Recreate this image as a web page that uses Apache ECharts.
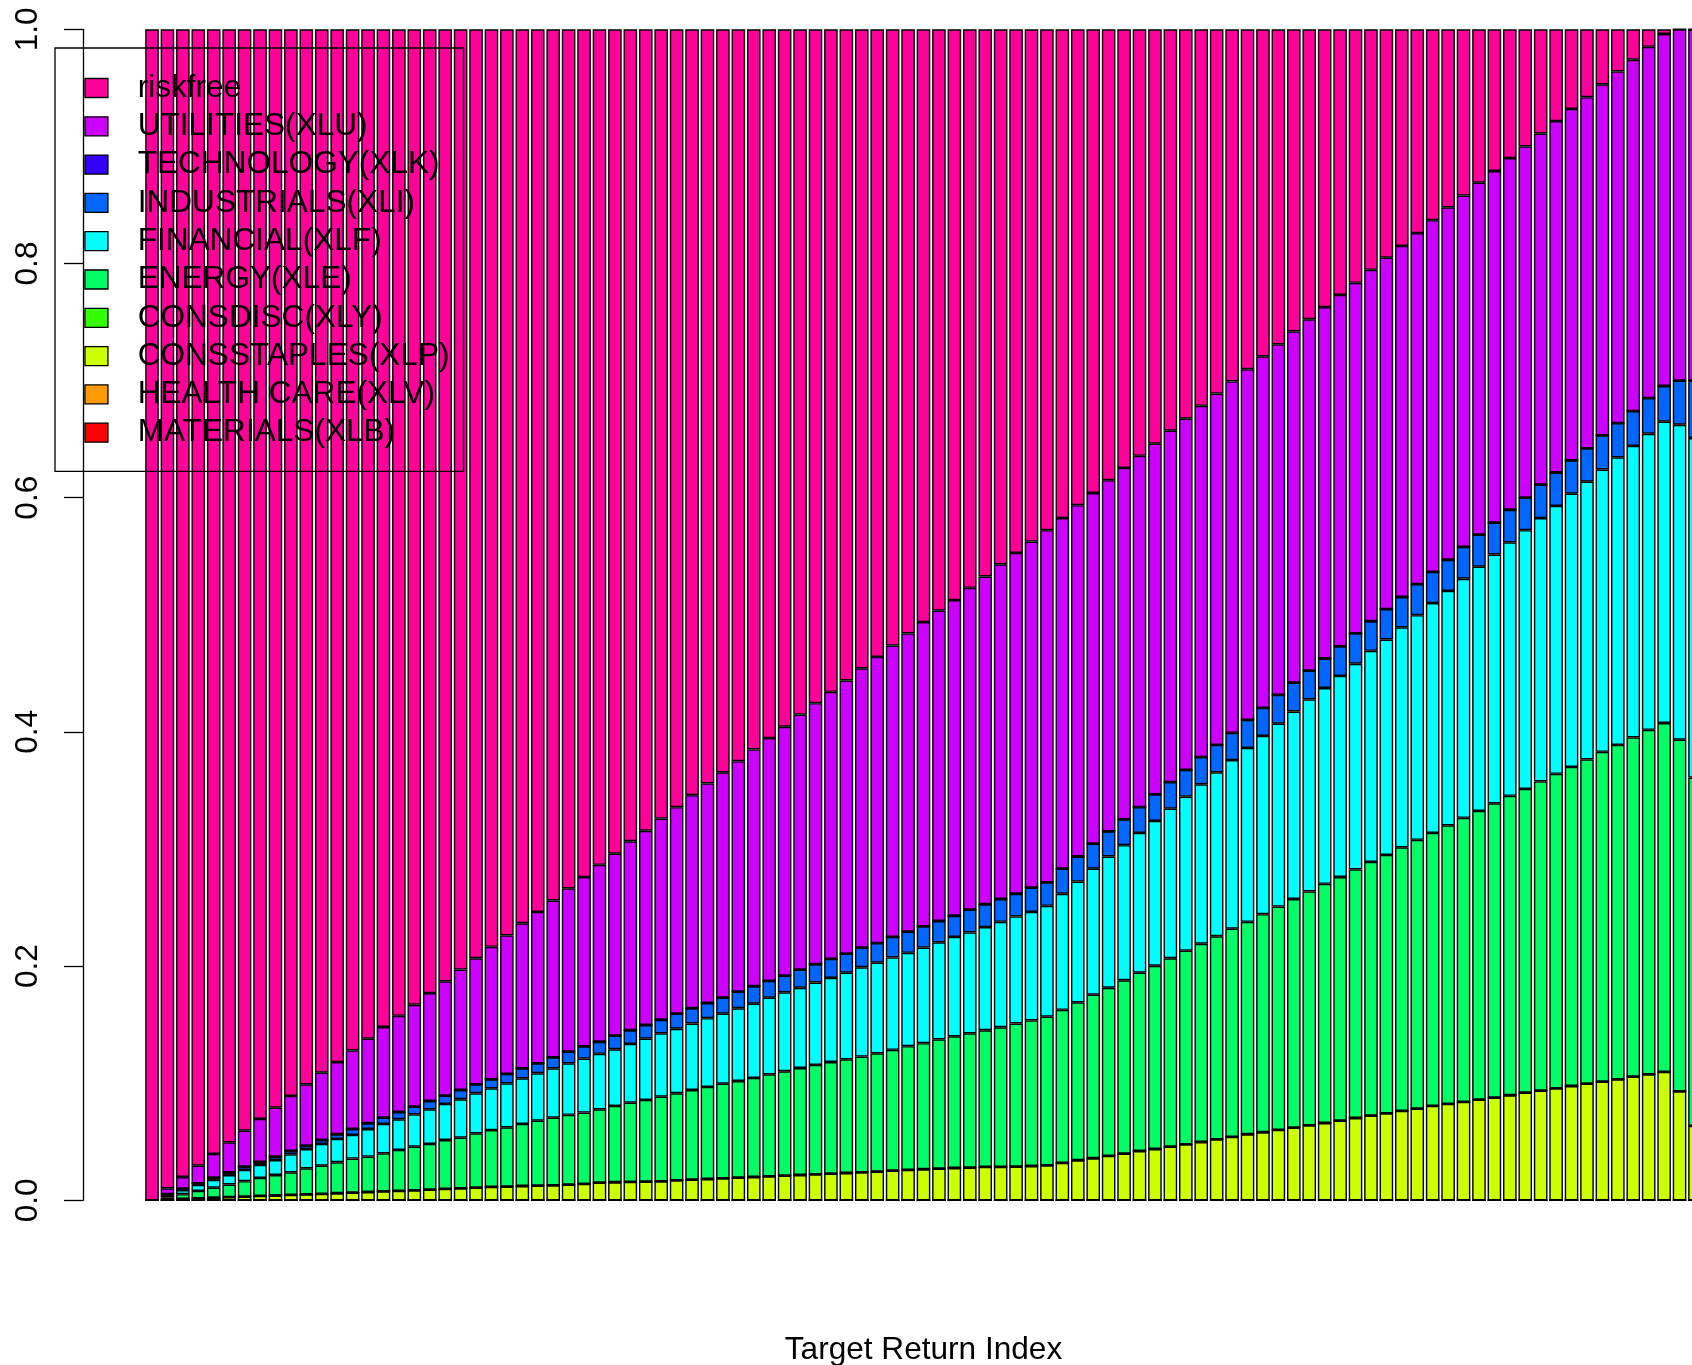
<!DOCTYPE html>
<html>
<head>
<meta charset="utf-8">
<script src="https://cdn.jsdelivr.net/npm/echarts@6/dist/echarts.min.js"></script>
<style>
  html, body { margin: 0; padding: 0; background: #fff; }
  #chart { width: 1692px; height: 1365px; }
</style>
</head>
<body>
<div id="chart"></div>
<script>
// Portfolio weights along the frontier, one bar per target-return step.
const assetNames = ['MATERIALS(XLB)', 'HEALTH CARE(XLV)', 'CONSSTAPLES(XLP)', 'CONSDISC(XLY)',
  'ENERGY(XLE)', 'FINANCIAL(XLF)', 'INDUSTRIALS(XLI)', 'TECHNOLOGY(XLK)', 'UTILITIES(XLU)', 'riskfree'];
// rainbow(10) palette, bottom of the stack first
const assetColors = ['#FF0000', '#FF9900', '#CCFF00', '#33FF00', '#00FF66',
  '#00FFFF', '#0066FF', '#3300FF', '#CC00FF', '#FF0099'];
const yTickLabels = ['0.0', '0.2', '0.4', '0.6', '0.8', '1.0'];

const nBars = 101;
const targetIndex = Array.from({ length: nBars }, (_, i) => String(i + 1));

const materials = new Array(nBars).fill(0);
const healthcare = new Array(nBars).fill(0);
const consdisc = new Array(nBars).fill(0);
const technology = new Array(nBars).fill(0);

const consstaples = [0, .0006, .0012, .0017, .0022, .0027, .0032, .0037, .0041, .0046,
  .0050, .0055, .0060, .0065, .0071, .0077, .0080, .0085, .0091, .0097,
  .0102, .0108, .0114, .0117, .0122, .0125, .0128, .0134, .0140, .0151,
  .0154, .0157, .0159, .0162, .0171, .0176, .0182, .0188, .0194, .0199,
  .0205, .0211, .0216, .0222, .0228, .0233, .0239, .0245, .0253, .0259,
  .0265, .0270, .0276, .0279, .0285, .0286, .0288, .0293, .0299, .0319,
  .0342, .0359, .0379, .0399, .0421, .0438, .0458, .0478, .0498, .0521,
  .0541, .0564, .0581, .0601, .0621, .0640, .0660, .0680, .0703, .0723,
  .0743, .0763, .0783, .0806, .0823, .0840, .0860, .0877, .0897, .0919,
  .0937, .0956, .0976, .0996, .1013, .1033, .1056, .1076, .1096, .0931,
  .0635];

const energy = [0, .0020, .0040, .0063, .0086, .0108, .0131, .0154, .0175, .0193,
  .0223, .0241, .0265, .0291, .0302, .0324, .0350, .0373, .0390, .0418,
  .0433, .0464, .0486, .0506, .0530, .0555, .0578, .0596, .0609, .0626,
  .0652, .0677, .0698, .0723, .0743, .0766, .0786, .0808, .0825, .0846,
  .0871, .0891, .0914, .0934, .0953, .0971, .0988, .1010, .1032, .1057,
  .1077, .1104, .1124, .1147, .1167, .1192, .1222, .1243, .1269, .1308,
  .1349, .1397, .1436, .1480, .1523, .1565, .1609, .1654, .1693, .1734,
  .1779, .1814, .1862, .1907, .1952, .1998, .2043, .2081, .2123, .2167,
  .2206, .2251, .2295, .2331, .2379, .2426, .2465, .2513, .2557, .2594,
  .2640, .2686, .2725, .2769, .2817, .2856, .2897, .2942, .2980, .3003,
  .2975];

const financial = [0, .0020, .0036, .0051, .0066, .0081, .0096, .0111, .0128, .0154,
  .0165, .0185, .0199, .0202, .0236, .0251, .0262, .0276, .0296, .0308,
  .0328, .0342, .0356, .0376, .0390, .0405, .0421, .0440, .0461, .0474,
  .0484, .0501, .0523, .0541, .0551, .0568, .0587, .0598, .0621, .0634,
  .0654, .0674, .0685, .0704, .0718, .0740, .0763, .0774, .0789, .0797,
  .0816, .0829, .0849, .0862, .0881, .0900, .0914, .0927, .0947, .0991,
  .1031, .1076, .1121, .1154, .1193, .1237, .1277, .1316, .1361, .1400,
  .1439, .1485, .1523, .1562, .1601, .1639, .1672, .1717, .1756, .1802,
  .1840, .1879, .1919, .1963, .2002, .2042, .2086, .2125, .2165, .2210,
  .2249, .2288, .2333, .2372, .2411, .2456, .2489, .2528, .2573, .2689,
  .2900];

const industrials = [0, .0006, .0012, .0014, .0020, .0023, .0028, .0025, .0029, .0028,
  .0029, .0034, .0040, .0051, .0049, .0054, .0062, .0066, .0071, .0071,
  .0079, .0076, .0077, .0080, .0085, .0085, .0093, .0100, .0105, .0103,
  .0116, .0117, .0117, .0116, .0129, .0130, .0130, .0136, .0142, .0149,
  .0143, .0142, .0155, .0156, .0162, .0162, .0168, .0168, .0175, .0181,
  .0182, .0182, .0181, .0194, .0195, .0195, .0194, .0207, .0200, .0214,
  .0214, .0214, .0214, .0220, .0220, .0227, .0227, .0227, .0233, .0234,
  .0233, .0239, .0240, .0246, .0246, .0247, .0252, .0253, .0259, .0253,
  .0260, .0259, .0265, .0266, .0266, .0272, .0273, .0272, .0278, .0278,
  .0285, .0285, .0285, .0285, .0292, .0291, .0298, .0304, .0305, .0377,
  .0490];

const utilities = [0, .0050, .0099, .0151, .0202, .0256, .0308, .0368, .0418, .0470,
  .0523, .0575, .0616, .0671, .0722, .0774, .0821, .0870, .0922, .0976,
  .1028, .1077, .1132, .1183, .1239, .1293, .1340, .1394, .1445, .1511,
  .1554, .1614, .1659, .1718, .1763, .1820, .1875, .1925, .1968, .2022,
  .2074, .2126, .2178, .2229, .2281, .2333, .2385, .2443, .2488, .2547,
  .2598, .2651, .2696, .2748, .2799, .2858, .2910, .2955, .3008, .2994,
  .3000, .2994, .3000, .3001, .3001, .2994, .3001, .3000, .3000, .3000,
  .3001, .2995, .3001, .2994, .3000, .3000, .3001, .3001, .2994, .3001,
  .3001, .2998, .2998, .3004, .3010, .3000, .3006, .3003, .3003, .2999,
  .2999, .3001, .3001, .2998, .2997, .3004, .3000, .3000, .3006, .3000,
  .3000];

const riskfree = [1, .9898, .9801, .9704, .9604, .9505, .9405, .9305, .9209, .9109,
  .9010, .8910, .8820, .8720, .8620, .8520, .8425, .8330, .8230, .8130,
  .8030, .7933, .7835, .7738, .7634, .7537, .7440, .7336, .7240, .7135,
  .7040, .6934, .6844, .6740, .6643, .6540, .6440, .6345, .6250, .6150,
  .6053, .5956, .5852, .5755, .5658, .5561, .5457, .5360, .5263, .5159,
  .5062, .4964, .4874, .4770, .4673, .4569, .4472, .4375, .4277, .4174,
  .4064, .3960, .3850, .3746, .3642, .3539, .3428, .3325, .3215, .3111,
  .3007, .2903, .2793, .2690, .2580, .2476, .2372, .2268, .2165, .2054,
  .1950, .1850, .1740, .1630, .1520, .1420, .1310, .1210, .1100, .1000,
  .0890, .0784, .0680, .0580, .0470, .0360, .0260, .0150, .0040, 0,
  0];

const weights = [materials, healthcare, consstaples, consdisc, energy,
  financial, industrials, technology, utilities, riskfree];

const FONT = '"Liberation Sans", Arial, Helvetica, sans-serif';
const FS = 31.6;

const chart = echarts.init(document.getElementById('chart'), null, { renderer: 'canvas' });

chart.setOption({
  animation: false,
  backgroundColor: '#ffffff',
  textStyle: { fontFamily: FONT },
  // plotting band runs a little past the right edge of the page
  grid: {
    left: 144.3, width: 1558.4, top: 29.3, height: 1171,
    containLabel: false, outerBoundsMode: 'none'
  },
  legend: {
    orient: 'vertical',
    left: 55,
    top: 48,
    padding: [24, 14, 22.7, 29.3],
    itemWidth: 23,
    itemHeight: 19,
    itemGap: 6.3,
    icon: 'rect',
    selectedMode: false,
    borderColor: '#000',
    borderWidth: 1.3,
    backgroundColor: 'transparent',
    itemStyle: { borderColor: '#000', borderWidth: 1.3 },
    textStyle: { fontFamily: FONT, fontSize: FS, lineHeight: 32, color: '#000', padding: [0, 0, 0, 24.7] },
    data: assetNames.slice().reverse()
  },
  xAxis: {
    type: 'category',
    data: targetIndex,
    boundaryGap: true,
    axisLine: { show: false },
    axisTick: { show: false },
    axisLabel: { show: false },
    splitLine: { show: false },
    name: 'Target Return Index',
    nameLocation: 'middle',
    nameGap: 133.5,
    nameTextStyle: { fontFamily: FONT, fontSize: FS, color: '#000' }
  },
  yAxis: {
    type: 'value',
    min: 0,
    max: 1,
    interval: 0.2,
    offset: 61.3,
    axisLine: { show: true, lineStyle: { color: '#000', width: 1.3 } },
    axisTick: { show: true, length: 19, lineStyle: { color: '#000', width: 1.3 } },
    splitLine: { show: false },
    axisLabel: {
      rotate: 90,
      margin: 39,
      fontFamily: FONT,
      fontSize: FS,
      color: '#000',
      formatter: (v) => yTickLabels[Math.round(v / 0.2)]
    }
  },
  series: assetNames.map((name, i) => ({
    name,
    type: 'bar',
    stack: 'weights',
    barWidth: 13.6,
    data: weights[i],
    itemStyle: { color: assetColors[i], borderColor: '#000', borderWidth: 1.4 },
    emphasis: { disabled: true },
    silent: true
  }))
});
</script>
</body>
</html>
